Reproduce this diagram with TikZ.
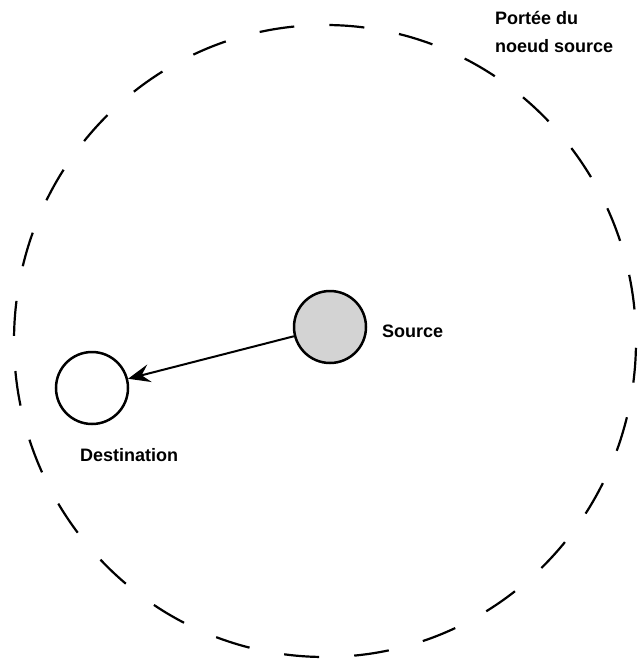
\documentclass[tikz,border=0pt]{standalone}
\usepackage{fontspec}
\setmainfont{Liberation Sans}
\usetikzlibrary{arrows.meta}
\begin{document}
\begin{tikzpicture}[x=1pt,y=-1pt,
  lbl/.style={font=\fontsize{18}{28}\selectfont\bfseries, inner sep=0pt, anchor=west},
  nodecirc/.style={circle, draw=black, line width=2.5pt, minimum size=72pt, inner sep=0pt},
  rangering/.style={draw=black, line width=2.2pt, dash pattern=on 35pt off 35.25pt, dash phase=63.5pt}]
\useasboundingbox (0,0) rectangle (638,659);
\draw[rangering] (325,341) ellipse [x radius=311, y radius=316];
\node[nodecirc, fill={rgb,255:red,211;green,211;blue,211}] (src) at (330,327) {};
\node[nodecirc, fill=white] (dst) at (92,388) {};
\draw[line width=2pt, -{Stealth[length=22pt, width=18pt, inset=8pt]}] (src) -- (dst);
\node[lbl] (srclbl) at (382,331) {Source};
\node[lbl] (dstlbl) at (80,455) {Destination};
\node[lbl, align=left, anchor=north west] (rangelbl) at (495,11) {Portée du\\noeud source};
\end{tikzpicture}
\end{document}
